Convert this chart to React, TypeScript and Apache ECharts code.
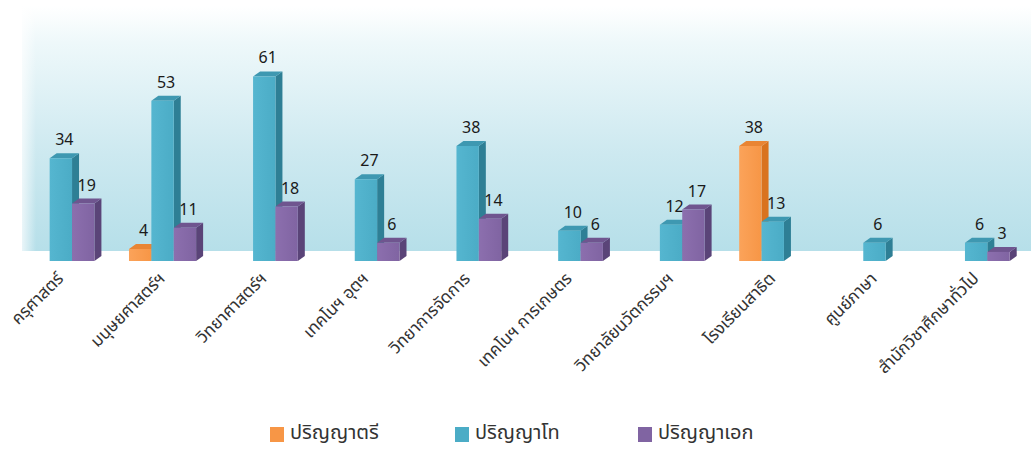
import React, { useEffect, useRef } from "react";
import * as echarts from "echarts";

const categories = [
  "ครุศาสตร์",
  "มนุษยศาสตร์ฯ",
  "วิทยาศาสตร์ฯ",
  "เทคโนฯ อุตฯ",
  "วิทยาการจัดการ",
  "เทคโนฯ การเกษตร",
  "วิทยาลัยนวัตกรรมฯ",
  "โรงเรียนสาธิต",
  "ศูนย์ภาษา",
  "สำนักวิชาศึกษาทั่วไป",
];
const bachelor: (number | null)[] = [null, 4, null, null, null, null, null, 38, null, null];
const master: (number | null)[] = [34, 53, 61, 27, 38, 10, 12, 13, 6, 6];
const doctor: (number | null)[] = [19, 11, 18, 6, 14, 6, 17, null, null, 3];
const seriesNames = ["ปริญญาตรี", "ปริญญาโท", "ปริญญาเอก"];

const FONT = "'Noto Sans Thai', 'Noto Sans', 'DejaVu Sans', sans-serif";

const palettes = [
  { front: "#F79646", frontLight: "#FBA35A", side: "#D9731F", top: "#E98534" },
  { front: "#4BACC6", frontLight: "#55B6D0", side: "#2E7F95", top: "#3E98B1" },
  { front: "#8064A2", frontLight: "#8C6FAE", side: "#5A4478", top: "#6F558F" },
];

function makeSeries(name: string, values: (number | null)[], k: number) {
  const pal = palettes[k];
  const offset = k - 1;
  return {
    type: "custom",
    name,
    itemStyle: { color: pal.front },
    encode: { x: 0, y: 1 },
    data: values
      .map((v, i) => [i, v])
      .filter((d) => d[1] !== null && d[1] !== undefined),
    renderItem: (params: any, api: any) => {
      const idx = api.value(0);
      const v = api.value(1);
      const base = api.coord([idx, 0]);
      const top = api.coord([idx, v]);
      const bw = api.size([1, 0])[0];
      const w = bw * 0.22;
      const dx = 7;
      const dy = 5;
      const cx = base[0] + offset * w;
      const x0 = cx - w / 2;
      const x1 = cx + w / 2;
      const yt = top[1];
      const yb = base[1];
      return {
        type: "group",
        children: [
          {
            type: "polygon",
            shape: {
              points: [
                [x1, yt],
                [x1 + dx, yt - dy],
                [x1 + dx, yb - dy],
                [x1, yb],
              ],
            },
            style: { fill: pal.side },
          },
          {
            type: "polygon",
            shape: {
              points: [
                [x0, yt],
                [x0 + dx, yt - dy],
                [x1 + dx, yt - dy],
                [x1, yt],
              ],
            },
            style: { fill: pal.top },
          },
          {
            type: "rect",
            shape: { x: x0, y: yt, width: w, height: yb - yt },
            style: {
              fill: new echarts.graphic.LinearGradient(0, 0, 1, 0, [
                { offset: 0, color: pal.frontLight },
                { offset: 1, color: pal.front },
              ]),
            },
          },
          {
            type: "text",
            style: {
              text: String(v),
              x: cx + dx / 2,
              y: yt - dy - 5,
              align: "center",
              verticalAlign: "bottom",
              fontSize: 16,
              fontFamily: FONT,
              fill: "#1a1a1a",
            },
          },
        ],
      };
    },
  };
}

const legendLefts = [270, 455, 638];

export default function App() {
  const ref = useRef<HTMLDivElement>(null);
  useEffect(() => {
    if (!ref.current) return;
    const chart = echarts.init(ref.current, undefined, { renderer: "svg" });
    const legendGraphics: any[] = [];
    seriesNames.forEach((n, i) => {
      legendGraphics.push({
        type: "rect",
        silent: true,
        shape: { x: legendLefts[i], y: 427, width: 14, height: 15 },
        style: { fill: palettes[i].front },
      });
      legendGraphics.push({
        type: "text",
        silent: true,
        x: legendLefts[i] + 20,
        y: 433,
        style: {
          text: n,
          fontSize: 20,
          fontFamily: FONT,
          fill: "#333333",
          verticalAlign: "middle",
          align: "left",
        },
      });
    });
    chart.setOption({
      animation: false,
      backgroundColor: "#ffffff",
      color: palettes.map((p) => p.front),
      graphic: [
        {
          type: "rect",
          z: -10,
          silent: true,
          shape: { x: 22, y: 6, width: 1009, height: 245 },
          style: {
            fill: new echarts.graphic.LinearGradient(0, 0, 0, 1, [
              { offset: 0, color: "#ffffff" },
              { offset: 0.15, color: "#eef8fa" },
              { offset: 0.6, color: "#cde9f0" },
              { offset: 1, color: "#b6dfe9" },
            ]),
          },
        },
        {
          type: "rect",
          z: -9,
          silent: true,
          shape: { x: 22, y: 6, width: 14, height: 245 },
          style: {
            fill: new echarts.graphic.LinearGradient(0, 0, 1, 0, [
              { offset: 0, color: "rgba(255,255,255,0.7)" },
              { offset: 1, color: "rgba(255,255,255,0)" },
            ]),
          },
        },
        ...legendGraphics,
      ],
      grid: { left: 10, right: 4, top: 19, bottom: 189 },
      xAxis: {
        type: "category",
        data: categories,
        axisLine: { show: false },
        axisTick: { show: false },
        splitLine: { show: false },
        axisLabel: {
          rotate: 45,
          interval: 0,
          margin: 15,
          fontSize: 17,
          color: "#333333",
          fontFamily: FONT,
        },
      },
      yAxis: {
        type: "value",
        min: 0,
        max: 80,
        show: false,
        splitLine: { show: false },
      },
      series: [
        makeSeries(seriesNames[0], bachelor, 0),
        makeSeries(seriesNames[1], master, 1),
        makeSeries(seriesNames[2], doctor, 2),
      ],
    });
    return () => chart.dispose();
  }, []);
  return <div ref={ref} style={{ width: 1031, height: 450, position: "absolute", left: 0, top: 0 }} />;
}
